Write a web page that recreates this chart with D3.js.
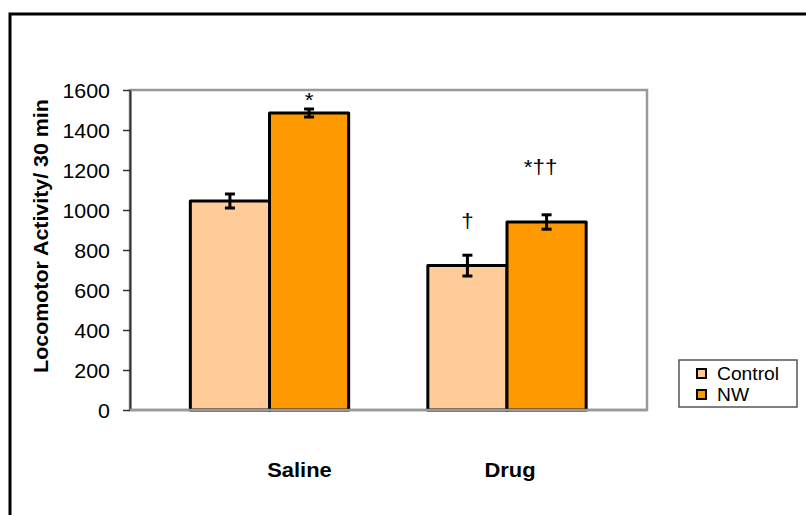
<!DOCTYPE html>
<html><head><meta charset="utf-8">
<script src="https://cdn.jsdelivr.net/npm/d3@7"></script>
<style>
html,body{margin:0;padding:0;background:#fff;}
svg{display:block;font-family:"Liberation Sans",Arial,sans-serif;}
</style></head>
<body>
<svg id="chart" width="806" height="515"></svg>
<script>
// ---- data ----
const categories = ["Saline", "Drug"];
const seriesNames = ["Control", "NW"];
const controlValues = [1045, 722];
const nwValues = [1485, 940];
const controlErrors = [35, 52];
const nwErrors = [20, 36];
const controlMarks = ["", "†"];
const nwMarks = ["*", "*††"];
const yTicks = [0, 200, 400, 600, 800, 1000, 1200, 1400, 1600];
const yTitle = "Locomotor Activity/ 30 min";

// ---- layout ----
const colors = {Control: "#FFCC99", NW: "#FF9900"};
const plot = {left: 130, right: 647, top: 90, bottom: 410};
const stretch = 1.07;

const svg = d3.select("#chart");

// outer frame
svg.append("rect").attr("x", 10).attr("y", 14).attr("width", 830).attr("height", 540)
  .attr("fill", "none").attr("stroke", "#000").attr("stroke-width", 3);

const y = d3.scaleLinear().domain([0, 1600]).range([plot.bottom, plot.top]);
const x = d3.scaleBand().domain(categories).range([150.75, 625.75]).padding(0);
const xs = d3.scaleBand().domain(seriesNames).range([0, x.bandwidth()]).paddingInner(0).paddingOuter(0.5);

// plot area border (gray)
svg.append("rect").attr("x", plot.left).attr("y", plot.top)
  .attr("width", plot.right - plot.left).attr("height", plot.bottom - plot.top)
  .attr("fill", "none").attr("stroke", "#999").attr("stroke-width", 2.5);

const rows = categories.map((c, i) => [
  {cat: c, s: "Control", v: controlValues[i], e: controlErrors[i], m: controlMarks[i]},
  {cat: c, s: "NW", v: nwValues[i], e: nwErrors[i], m: nwMarks[i]}
]).flat();

// bars
svg.append("g").selectAll("rect").data(rows).join("rect")
  .attr("x", d => x(d.cat) + xs(d.s))
  .attr("y", d => y(d.v))
  .attr("width", xs.bandwidth())
  .attr("height", d => y(0) - y(d.v))
  .attr("fill", d => colors[d.s])
  .attr("stroke", "#000").attr("stroke-width", 3).attr("stroke-linejoin", "round");

// error bars
const eg = svg.append("g").attr("stroke", "#000").attr("stroke-width", 3);
rows.forEach(d => {
  const cx = x(d.cat) + xs(d.s) + xs.bandwidth() / 2;
  eg.append("line").attr("x1", cx).attr("x2", cx).attr("y1", y(d.v + d.e)).attr("y2", y(d.v - d.e));
  eg.append("line").attr("x1", cx - 5).attr("x2", cx + 5).attr("y1", y(d.v + d.e)).attr("y2", y(d.v + d.e));
  eg.append("line").attr("x1", cx - 5).attr("x2", cx + 5).attr("y1", y(d.v - d.e)).attr("y2", y(d.v - d.e));
});

// significance marks
const markLayout = {"Saline|NW": {dx: 0, dy: -2}, "Drug|Control": {dx: 0, dy: -27}, "Drug|NW": {dx: -6, dy: -41}};
rows.filter(d => d.m).forEach(d => {
  const cx = x(d.cat) + xs(d.s) + xs.bandwidth() / 2;
  const L = markLayout[d.cat + "|" + d.s];
  svg.append("text")
    .attr("transform", `translate(${cx + L.dx},${y(d.v + d.e) + L.dy}) scale(${stretch},1)`)
    .attr("text-anchor", "middle").attr("font-size", 21).attr("fill", "#000")
    .text(d.m);
});

// y axis
const yAxis = d3.axisLeft(y).tickValues(yTicks).tickFormat(d3.format("d"))
  .tickSize(7).tickSizeOuter(0).tickPadding(0);
const ga = svg.append("g").attr("transform", `translate(${plot.left},0)`).call(yAxis);
ga.select(".domain").attr("stroke", "#333").attr("stroke-width", 2);
ga.selectAll(".tick line").attr("stroke", "#333").attr("stroke-width", 1.5);
ga.selectAll(".tick text").attr("x", null).attr("dy", null)
  .attr("font-family", "Liberation Sans, Arial, sans-serif").attr("font-size", 20).attr("fill", "#000")
  .attr("text-anchor", "end")
  .attr("transform", `translate(-20,7) scale(${stretch},1)`);

// bottom axis line (gray)
svg.append("line").attr("x1", plot.left).attr("x2", plot.right).attr("y1", plot.bottom).attr("y2", plot.bottom)
  .attr("stroke", "#999").attr("stroke-width", 2.5);

// y title
svg.append("text")
  .attr("transform", `translate(48,236) rotate(-90) scale(${stretch},1)`)
  .attr("text-anchor", "middle").attr("font-size", 20).attr("font-weight", "bold").attr("fill", "#000")
  .text(yTitle);

// category labels
const catLabelOffset = {Saline: 30, Drug: 3};
categories.forEach(c => {
  svg.append("text")
    .attr("transform", `translate(${x(c) + x.bandwidth() / 2 + catLabelOffset[c]},477) scale(${stretch},1)`)
    .attr("text-anchor", "middle").attr("font-size", 20.5).attr("font-weight", "bold").attr("fill", "#000")
    .text(c);
});

// legend
const lg = svg.append("g").attr("transform", "translate(679,360)");
lg.append("rect").attr("width", 118).attr("height", 47).attr("fill", "#fff").attr("stroke", "#555").attr("stroke-width", 1.5);
seriesNames.forEach((s, i) => {
  const yy = 14 + i * 21;
  lg.append("rect").attr("x", 18).attr("y", yy - 5).attr("width", 9).attr("height", 9)
    .attr("fill", colors[s]).attr("stroke", "#000").attr("stroke-width", 2);
  lg.append("text").attr("transform", `translate(38,${yy + 6}) scale(${stretch},1)`)
    .attr("font-size", 18).attr("fill", "#000").text(s);
});
</script>
</body></html>
